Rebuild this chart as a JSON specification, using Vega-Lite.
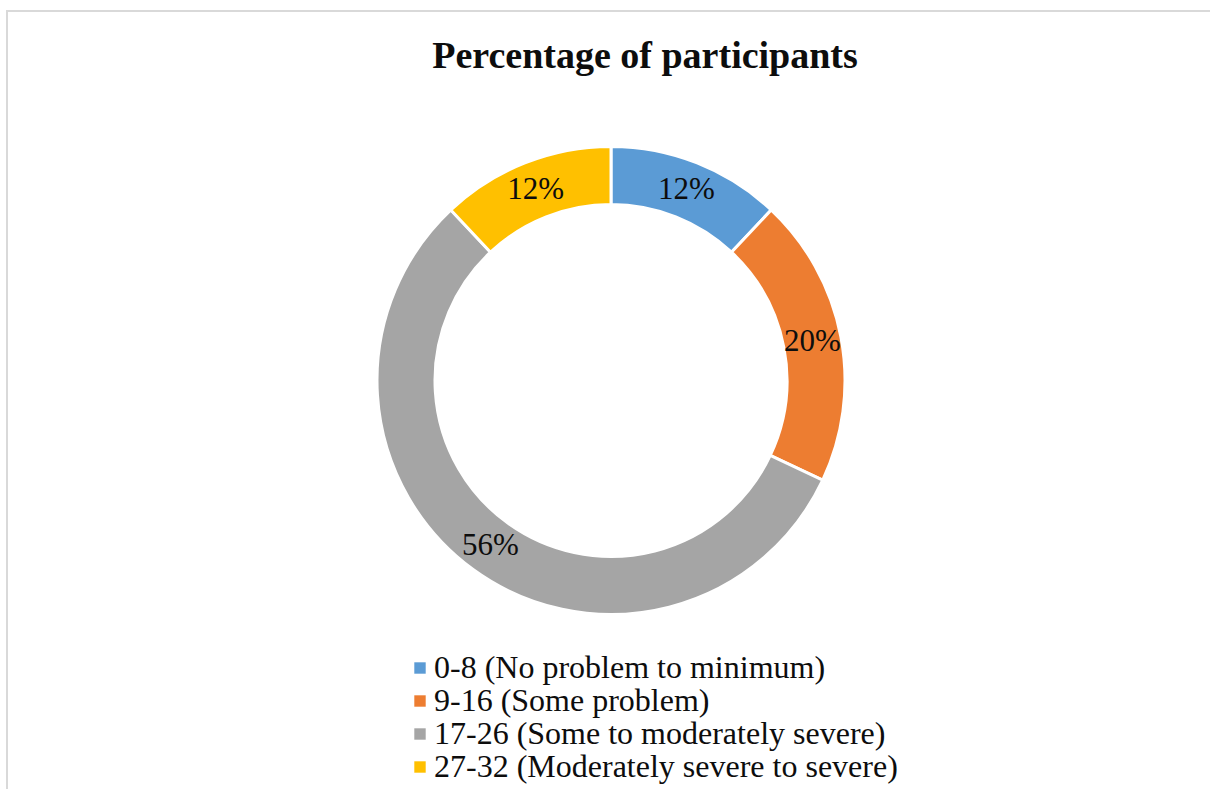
{
  "$schema": "https://vega.github.io/schema/vega-lite/v6.json",
  "autosize": {"type": "none"},
  "width": 1210,
  "height": 789,
  "padding": {"left": 7, "top": 11, "right": -7, "bottom": -11},
  "background": "white",
  "view": {"stroke": "#d9d9d9", "strokeWidth": 2, "fill": "white"},
  "config": {
    "view": {"stroke": "#d9d9d9", "strokeWidth": 2},
    "font": "Liberation Serif"
  },
  "title": {
    "text": "Percentage of participants",
    "anchor": "middle",
    "frame": "group",
    "offset": -95,
    "baseline": "alphabetic",
    "dx": 33,
    "font": "Liberation Serif",
    "fontSize": 38,
    "fontWeight": "bold",
    "color": "#0d0d0d"
  },
  "data": {
    "values": [
      {"idx": 1, "category": "0-8 (No problem to minimum)", "value": 12, "label": "12%"},
      {"idx": 2, "category": "9-16 (Some problem)", "value": 20, "label": "20%"},
      {"idx": 3, "category": "17-26 (Some to moderately severe)", "value": 56, "label": "56%"},
      {"idx": 4, "category": "27-32 (Moderately severe to severe)", "value": 12, "label": "12%"}
    ]
  },
  "encoding": {
    "theta": {"field": "value", "type": "quantitative", "stack": true},
    "order": {"field": "idx", "type": "quantitative", "sort": "ascending"}
  },
  "layer": [
    {
      "mark": {"type": "arc", "innerRadius": 176, "outerRadius": 234, "stroke": "white", "strokeWidth": 3, "yOffset": -25, "xOffset": -1},
      "encoding": {
        "color": {
          "field": "category",
          "type": "nominal",
          "scale": {
            "domain": ["0-8 (No problem to minimum)", "9-16 (Some problem)", "17-26 (Some to moderately severe)", "27-32 (Moderately severe to severe)"],
            "range": ["#5B9BD5", "#ED7D31", "#A5A5A5", "#FFC000"]
          },
          "legend": {
            "title": null,
            "orient": "none",
            "legendX": 397,
            "legendY": 641,
            "padding": 0,
            "symbolType": "square",
            "symbolSize": 130,
            "symbolStrokeWidth": 0,
            "labelFont": "Liberation Serif",
            "labelFontSize": 32,
            "labelColor": "#0d0d0d",
            "labelLimit": 800,
            "labelOffset": -2,
            "rowPadding": 1
          }
        }
      }
    },
    {
      "mark": {"type": "text", "radius": 205, "fontSize": 31, "font": "Liberation Serif", "color": "#0d0d0d", "yOffset": -25, "xOffset": -1, "baseline": "middle", "align": "center"},
      "encoding": {
        "text": {"field": "label", "type": "nominal"}
      }
    }
  ]
}
